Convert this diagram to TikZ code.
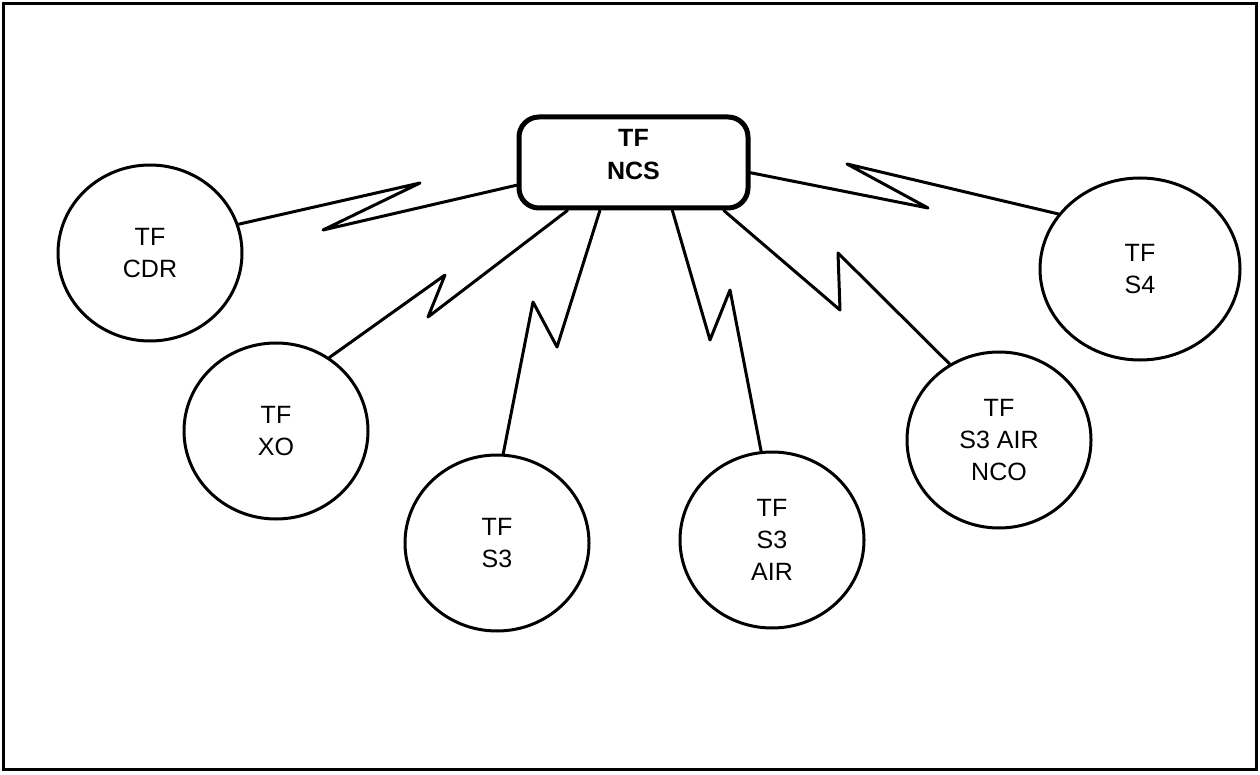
\documentclass[tikz,border=0pt]{standalone}
\usepackage{fontspec}
\setmainfont{Liberation Sans}
\usetikzlibrary{shapes.geometric}
\begin{document}
\begin{tikzpicture}[x=1pt,y=-1pt,
  station/.style={draw, ellipse, line width=3pt, minimum width=184pt, minimum height=176pt,
    inner sep=0pt, align=center, font=\fontsize{25}{32}\selectfont},
  hub/.style={draw, rectangle, rounded corners=20pt, line width=5pt, minimum width=229pt,
    minimum height=91pt, inner sep=0pt},
  hublabel/.style={align=center, font=\bfseries\fontsize{25}{33}\selectfont, yshift=8pt},
  link/.style={line width=3pt, line join=round, line cap=round},
  frame/.style={line width=3pt}]
\useasboundingbox (0,0) rectangle (1260,775);
\draw[frame] (3,4) rectangle (1256,769);
% hub
\node[hub, label={[hublabel]center:{TF\\NCS}}] (ncs) at (633.5,162.5) {};
% stations
\node[station] (cdr) at (150,253) {TF\\CDR};
\node[station] (xo) at (276,431) {TF\\XO};
\node[station] (s3) at (497,543) {TF\\S3};
\node[station] (s3air) at (772,540) {TF\\S3\\AIR};
\node[station] (nco) at (999,440) {TF\\S3 AIR\\NCO};
\node[station, minimum width=200pt, minimum height=182pt] (s4) at (1140,269) {TF\\S4};
% links
\draw[link] (cdr.18) -- (420,183) -- (323,230) -- (ncs.191);
\draw[link] (xo.54) -- (445,275) -- (428,317) -- (ncs.216);
\draw[link] (s3.86) -- (533,302) -- (557,347) -- (ncs.235);
\draw[link] (s3air.97) -- (730,290) -- (710,340) -- (ncs.309);
\draw[link] (nco.123) -- (838,253) -- (840,310) -- (ncs.332);
\draw[link] (s4.146) -- (847,164) -- (928,208) -- (ncs.355);
\end{tikzpicture}
\end{document}
